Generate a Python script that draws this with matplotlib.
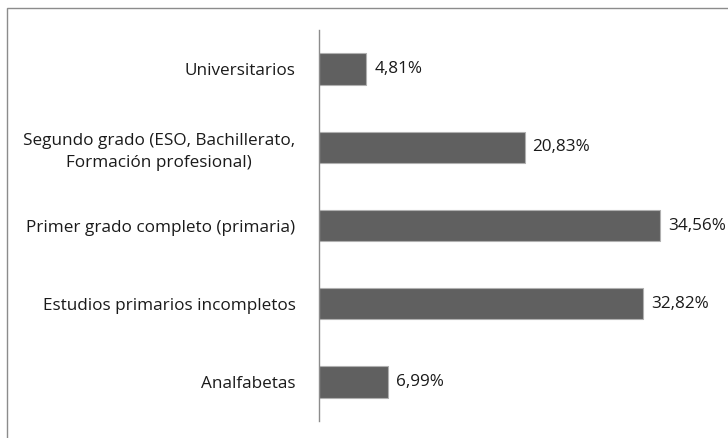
import matplotlib
matplotlib.use("Agg")
import matplotlib.pyplot as plt
from matplotlib.patches import Rectangle

categories = ["Analfabetas", "Estudios primarios incompletos",
              "Primer grado completo (primaria)",
              "Segundo grado (ESO, Bachillerato,\nFormación profesional)",
              "Universitarios"]
values = [6.99, 32.82, 34.56, 20.83, 4.81]
value_labels = ["6,99%", "32,82%", "34,56%", "20,83%", "4,81%"]

plt.rcParams['font.family'] = ['Open Sans', 'DejaVu Sans']

W, H = 728, 438
fig = plt.figure(figsize=(W/100, H/100), dpi=100)
fig.patches.append(Rectangle((7/W, -0.1), 1.2, 1 - 8/H + 0.1, transform=fig.transFigure,
                             fill=False, edgecolor='#8c8c8c', linewidth=1.0))

ax = fig.add_axes([319/W, 1 - 421/H, 394.7/W, 391/H])
y = list(range(len(categories)))
ax.barh(y, values, height=0.4, color='#606060', edgecolor='#b0b0b0', linewidth=0.8)
ax.set_ylim(-0.5, len(categories) - 0.5)
ax.set_xlim(0, 40)
ax.set_yticks(y)
ax.set_yticklabels(categories, fontsize=12.3, color='#1a1a1a', multialignment='center',
                   linespacing=1.5)
ax.tick_params(axis='y', length=0, pad=17)
ax.set_xticks([])
for s in ['top', 'right', 'bottom']:
    ax.spines[s].set_visible(False)
ax.spines['left'].set_color('#8c8c8c')
ax.spines['left'].set_linewidth(1.0)
ax.patch.set_alpha(0)
for yi, v, lab in zip(y, values, value_labels):
    ax.text(v + 0.8, yi, lab, va='center', ha='left', fontsize=12.3, color='#1a1a1a')

fig.savefig("out.png", dpi=100)
